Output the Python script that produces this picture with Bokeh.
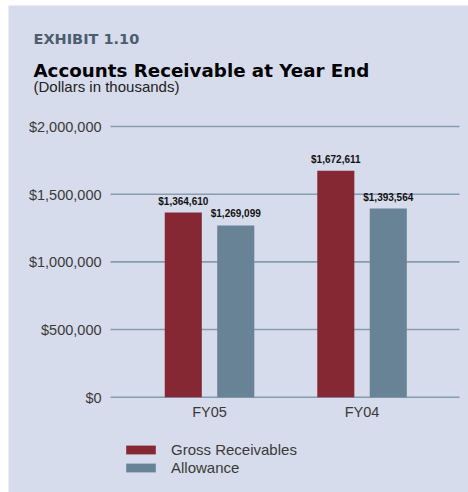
from bokeh.plotting import figure
from bokeh.models import ColumnDataSource, Range1d, Label, Legend, LegendItem, Spacer
from bokeh.transform import dodge
from bokeh.layouts import column, row
from bokeh.core.properties import value
from bokeh.embed import file_html
from bokeh.resources import INLINE

categories = ["FY05", "FY04"]
gross = [1364610, 1672611]
allowance = [1269099, 1393564]
y_ticks = [0, 500000, 1000000, 1500000, 2000000]
series_names = ["Gross Receivables", "Allowance"]
exhibit = "EXHIBIT 1.10"
title = "Accounts Receivable at Year End"
subtitle = "(Dollars in thousands)"

BG = "#D6DCEB"
GROSS_C = "#862834"
ALLOW_C = "#688396"
GRID_C = "#869DB0"
TXT = "#3a3a3a"
FONT = "Liberation Sans"

# plot-area extent (category units) used for gridlines and tick labels
X_LEFT, X_RIGHT = -0.149, 2.139

src = ColumnDataSource(dict(
    cat=categories,
    x=[i + 0.5 for i in range(len(categories))],
    gross=gross,
    allowance=allowance,
    gross_lbl=[f"${v:,}" for v in gross],
    allow_lbl=[f"${v:,}" for v in allowance],
))
tick_src = ColumnDataSource(dict(
    y=y_ticks,
    x0=[X_LEFT] * len(y_ticks),
    x1=[X_RIGHT] * len(y_ticks),
    lbl=[f"${v:,}" for v in y_ticks],
))

p = figure(
    x_range=Range1d(-0.818, 2.198),
    y_range=Range1d(-704100, 2894000),
    width=460, height=487,
    x_axis_type=None, y_axis_type=None,
    output_backend="svg", toolbar_location=None,
    min_border=0,
)
p.background_fill_color = BG
p.border_fill_color = BG
p.outline_line_color = None
p.grid.grid_line_color = None

# gridlines + y tick labels
p.segment(x0="x0", x1="x1", y0="y", y1="y", source=tick_src,
          line_color=GRID_C, line_width=1.6)
p.text(x="x0", y="y", text="lbl", source=tick_src, x_offset=-9, y_offset=0.5,
       text_align="right", text_baseline="alphabetic",
       text_font=value(FONT), text_font_size="14.5px", text_color=TXT)

# bars
off = 0.172
bw = 0.243
r1 = p.vbar(x=dodge("x", -off), top="gross", width=bw, source=src,
            fill_color=GROSS_C, line_color=None)
r2 = p.vbar(x=dodge("x", off), top="allowance", width=bw, source=src,
            fill_color=ALLOW_C, line_color=None)

# value labels
for col, lbl, sign in (("gross", "gross_lbl", -1), ("allowance", "allow_lbl", 1)):
    p.text(x=dodge("x", sign * off), y=col, text=lbl, source=src,
           text_align="center", text_baseline="alphabetic", y_offset=-11.5,
           text_font=value(FONT), text_font_style="bold",
           text_font_size="10px", text_color="#111111")

# category labels
p.text(x="x", y=0, text="cat", source=src, y_offset=14.8,
       text_align="center", text_baseline="alphabetic",
       text_font=value(FONT), text_font_size="14.5px", text_color=TXT)

# titles
p.add_layout(Label(x=25, y=454, x_units="screen", y_units="screen", text=exhibit,
                   text_font="DejaVu Sans", text_font_style="bold", text_font_size="14.5px",
                   text_color="#4d5d70", text_baseline="alphabetic"))
p.add_layout(Label(x=25, y=422, x_units="screen", y_units="screen", text=title,
                   text_font="DejaVu Sans", text_font_style="bold", text_font_size="18.25px",
                   text_color="#000000", text_baseline="alphabetic"))
p.add_layout(Label(x=25, y=405.7, x_units="screen", y_units="screen", text=subtitle,
                   text_font=FONT, text_font_size="15px",
                   text_color="#222222", text_baseline="alphabetic"))

legend = Legend(items=[LegendItem(label=series_names[0], renderers=[r1]),
                       LegendItem(label=series_names[1], renderers=[r2])],
                location=(114, 16), orientation="vertical",
                glyph_width=37, glyph_height=11, label_height=11, spacing=1,
                label_standoff=12, padding=0, margin=0,
                background_fill_alpha=0, border_line_color=None,
                label_text_font=FONT, label_text_font_size="15px",
                label_text_color=TXT)
p.add_layout(legend)

layout = column(Spacer(width=468, height=5), row(Spacer(width=8, height=487), p))
open("out.html", "w").write(file_html(layout, INLINE))
